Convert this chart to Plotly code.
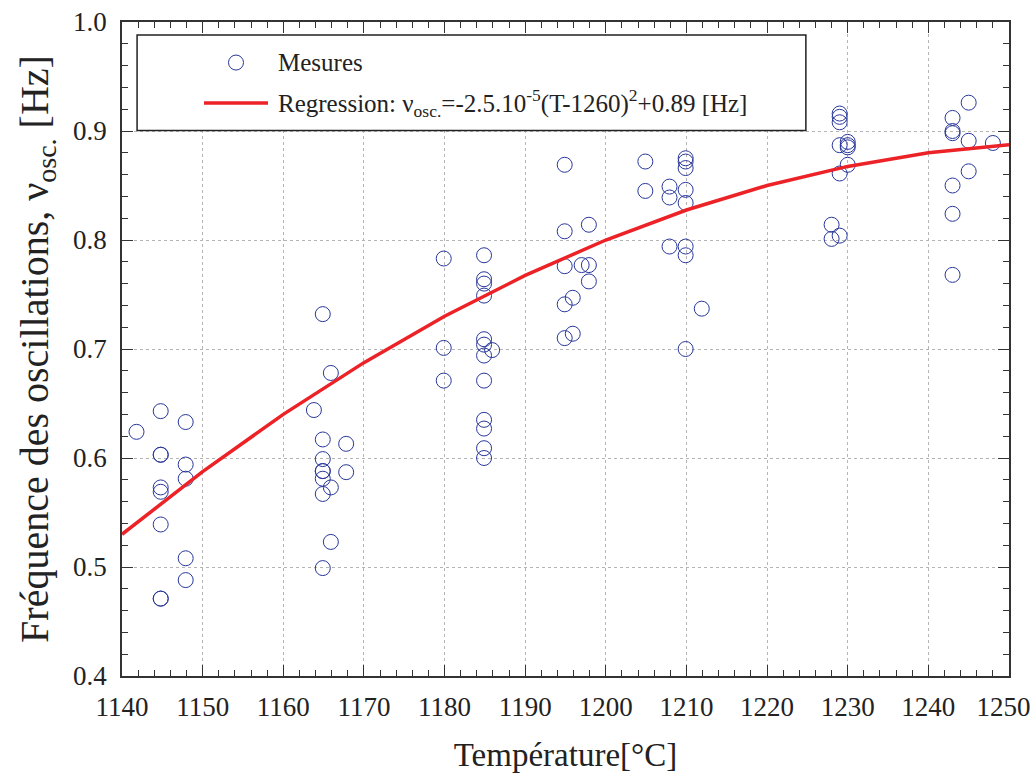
import plotly.graph_objects as go

# Measured points (temperature in °C, frequency in Hz)
temperature = [
    1141.8,
    1144.8, 1144.8, 1144.8, 1144.8, 1144.8, 1144.8, 1144.8, 1144.8,
    1147.9, 1147.9, 1147.9, 1147.9, 1147.9,
    1163.8,
    1164.9, 1164.9, 1164.9, 1164.9, 1164.9, 1164.9, 1164.9, 1164.9,
    1165.9, 1165.9, 1165.9,
    1167.8, 1167.8,
    1179.9, 1179.9, 1179.9,
    1184.9, 1184.9, 1184.9, 1184.9, 1184.9, 1184.9, 1184.9, 1184.9, 1184.9, 1184.9, 1184.9, 1184.9,
    1185.9,
    1194.9, 1194.9, 1194.9, 1194.9, 1194.9,
    1195.9, 1195.9,
    1197.0,
    1197.9, 1197.9, 1197.9,
    1204.9, 1204.9,
    1207.9, 1207.9, 1207.9,
    1209.9, 1209.9, 1209.9, 1209.9, 1209.9, 1209.9, 1209.9, 1209.9,
    1211.9,
    1228.0, 1228.0,
    1229.0, 1229.0, 1229.0, 1229.0, 1229.0, 1229.0,
    1230.0, 1230.0, 1230.0, 1230.0,
    1243.0, 1243.0, 1243.0, 1243.0, 1243.0, 1243.0,
    1245.0, 1245.0, 1245.0,
    1248.0,
]
frequency = [
    0.624,
    0.643, 0.603, 0.603, 0.573, 0.569, 0.539, 0.471, 0.471,
    0.633, 0.594, 0.581, 0.508, 0.488,
    0.644,
    0.732, 0.617, 0.599, 0.588, 0.588, 0.581, 0.567, 0.499,
    0.678, 0.573, 0.523,
    0.613, 0.587,
    0.783, 0.701, 0.671,
    0.786, 0.764, 0.760, 0.749, 0.709, 0.704, 0.694, 0.671, 0.635, 0.627, 0.609, 0.600,
    0.699,
    0.869, 0.808, 0.776, 0.741, 0.710,
    0.747, 0.714,
    0.777,
    0.814, 0.777, 0.762,
    0.872, 0.845,
    0.849, 0.839, 0.794,
    0.875, 0.872, 0.866, 0.846, 0.834, 0.794, 0.786, 0.700,
    0.737,
    0.814, 0.801,
    0.916, 0.913, 0.908, 0.887, 0.861, 0.804,
    0.890, 0.887, 0.885, 0.869,
    0.912, 0.900, 0.898, 0.850, 0.824, 0.768,
    0.926, 0.891, 0.863,
    0.889,
]

# Regression curve
reg_temperature = [1140, 1150, 1160, 1170, 1180, 1190, 1200, 1210, 1220, 1230, 1240, 1250]
reg_frequency = [0.530, 0.5875, 0.640, 0.6875, 0.730, 0.7675, 0.800, 0.8275, 0.850, 0.8675, 0.880, 0.8875]

x_ticks = [1140, 1150, 1160, 1170, 1180, 1190, 1200, 1210, 1220, 1230, 1240, 1250]
x_ticklabels = ["1140", "1150", "1160", "1170", "1180", "1190", "1200", "1210", "1220",
                "1230", "1240", "1250\u2009\u2009"]
y_ticks = [0.4, 0.5, 0.6, 0.7, 0.8, 0.9, 1.0]

legend_points = "Mesures"
legend_regression = "Regression: ν<sub>osc.</sub>=-2.5.10<sup>-5</sup>(T-1260)<sup>2</sup>+0.89 [Hz]"
x_title = "Température[°C]"
y_title = "Fréquence des oscillations, ν<sub>osc.</sub> [Hz]"

FONT = "Liberation Serif"
BLUE = "#28379a"
RED = "#ec2227"
AX = "#333333"

fig = go.Figure()
fig.add_trace(go.Scatter(
    x=temperature, y=frequency, mode="markers", name=legend_points,
    marker=dict(symbol="circle-open", size=15, color=BLUE, line=dict(width=1, color=BLUE)),
    showlegend=False, hoverinfo="skip",
))
fig.add_trace(go.Scatter(
    x=reg_temperature, y=reg_frequency, mode="lines", name="Regression",
    line=dict(color=RED, width=3.5), showlegend=False, hoverinfo="skip",
))

axis_common = dict(
    showline=True, linecolor=AX, linewidth=1.5, mirror="allticks",
    ticks="inside", ticklen=11, tickwidth=1, tickcolor=AX,
    showgrid=True, gridcolor="#b4b4b4", griddash="dot", gridwidth=1,
    zeroline=False, automargin=False, ticklabeloverflow="allow",
    tickfont=dict(family=FONT, size=27, color="#222222"),
)

fig.update_xaxes(
    range=[1140, 1250], tickvals=x_ticks, ticktext=x_ticklabels,
    minor=dict(ticks="inside", ticklen=6, dtick=2, tick0=1140, tickcolor=AX, showgrid=False),
    title=dict(text=x_title, font=dict(family=FONT, size=33, color="#222222"), standoff=22),
    ticklabelstandoff=6,
    **axis_common,
)
fig.update_yaxes(
    range=[0.4, 1.0], tickvals=y_ticks, ticktext=[f"{v:.1f}" for v in y_ticks],
    minor=dict(ticks="inside", ticklen=6, dtick=0.02, tick0=0.4, tickcolor=AX, showgrid=False),
    title=dict(text=y_title, font=dict(family=FONT, size=40, color="#222222"), standoff=12),
    ticklabelstandoff=8,
    **axis_common,
)

# Legend drawn as a framed box with sample symbols
lx0, lx1 = 0.017, 0.771
ly0, ly1 = 0.834, 0.980
fig.add_shape(type="rect", xref="paper", yref="paper", x0=lx0, x1=lx1, y0=ly0, y1=ly1,
              line=dict(color="#222222", width=1.5), fillcolor="white", layer="above")
row1_y = 0.938
row2_y = 0.876
sym_x = (236 - 122) / 887
fig.add_shape(type="circle", xref="paper", yref="paper", xsizemode="pixel", ysizemode="pixel",
              xanchor=sym_x, yanchor=row1_y, x0=-7.5, x1=7.5, y0=-7.5, y1=7.5,
              line=dict(color=BLUE, width=1), layer="above")
fig.add_shape(type="line", xref="paper", yref="paper",
              x0=(204 - 122) / 887, x1=(268 - 122) / 887, y0=row2_y, y1=row2_y,
              line=dict(color=RED, width=3.5), layer="above")
text_x = (276 - 122) / 887
fig.add_annotation(xref="paper", yref="paper", x=text_x, y=row1_y, text=legend_points,
                   showarrow=False, xanchor="left", yanchor="middle",
                   font=dict(family=FONT, size=25, color="#222222"))
fig.add_annotation(xref="paper", yref="paper", x=text_x, y=row2_y, text=legend_regression,
                   showarrow=False, xanchor="left", yanchor="middle",
                   font=dict(family=FONT, size=25, color="#222222"))

fig.update_layout(
    width=1032, height=782,
    margin=dict(l=122, r=23, t=22, b=106),
    paper_bgcolor="white", plot_bgcolor="white",
    font=dict(family=FONT, color="#222222"),
    hovermode=False,
)

fig.write_html("out.html", config={"displayModeBar": False},
               post_script="document.body.style.margin='0';")
